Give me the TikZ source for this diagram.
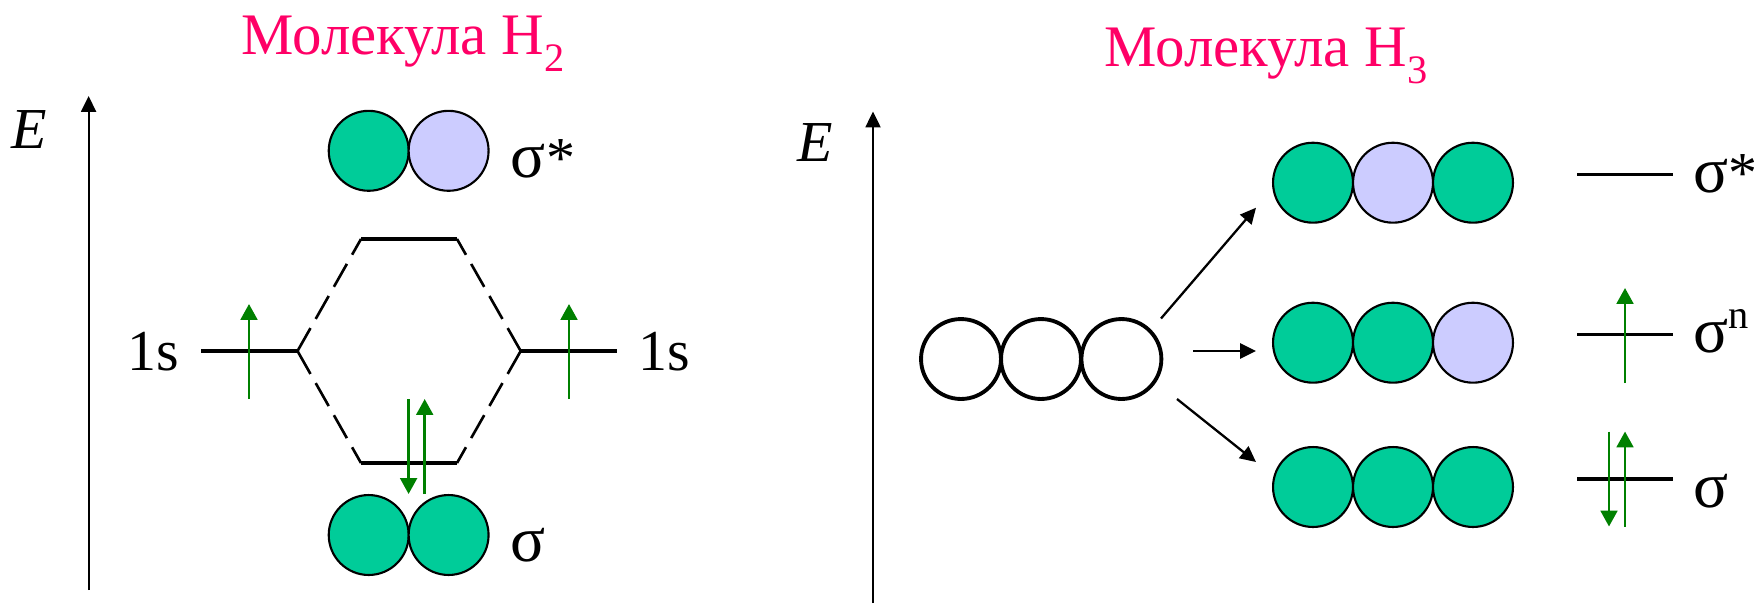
\documentclass[tikz,border=0pt]{standalone}
\usepackage{fontspec}
\setmainfont{Liberation Serif}
\usetikzlibrary{arrows.meta}
\definecolor{titlered}{HTML}{FF0066}
\definecolor{bondgreen}{HTML}{00CC99}
\definecolor{antililac}{HTML}{CCCCFF}
\definecolor{spingreen}{HTML}{008000}
\newcommand{\lowidx}[1]{\raisebox{-0.3em}{\fontsize{23}{23}\selectfont #1}}
\newcommand{\upidx}[1]{\raisebox{0.42em}{\fontsize{23}{23}\selectfont #1}}
\newcommand{\sgm}{{\fontsize{37}{36}\selectfont σ}}

\tikzset{
  bigtext/.style={font=\fontsize{33}{36}\selectfont, inner sep=0pt},
  titletext/.style={font=\fontsize{33.5}{36}\selectfont, inner sep=0pt, anchor=base, titlered},
  orb/.style={circle, draw, line width=1.2pt, minimum size=45.5pt, inner sep=0pt},
  orbg/.style={orb, fill=bondgreen},
  orbl/.style={orb, fill=antililac},
  orbe/.style={orb, line width=2.2pt, fill=white},
  axis/.style={-{Triangle[length=9pt, width=8.5pt]}, line width=1.2pt},
  level/.style={line width=2.1pt},
  link/.style={line width=1.5pt, dash pattern=on 15pt off 6pt},
  spin/.style={-{Triangle[length=9pt, width=9.5pt]}, spingreen, line width=1.5pt},
  split/.style={-{Triangle[length=9pt, width=8.5pt]}, line width=1.3pt}
}

\begin{document}
\begin{tikzpicture}[x=0.02cm, y=-0.02cm]
  \useasboundingbox (0,0) rectangle (1754,603);

  % --- Titles ---
  \node[titletext] (titleA) at (403, 54) {Молекула H\lowidx{2}};
  \node[titletext] (titleB) at (1266, 66) {Молекула H\lowidx{3}};

  % --- H2 (left) ---
  \coordinate (axisAa) at (88.6, 590);
  \coordinate (axisAb) at (88.6, 96);
  \draw[axis] (axisAa) -- (axisAb);
  \node[bigtext, anchor=base, font=\fontsize{33}{36}\selectfont\itshape] (enA) at (29, 148) {E};

  \node[orbg] (sa1) at (368.7, 150.8) {};
  \node[orbl] (sa2) at (448.6, 150.8) {};
  \node[orbg] (sb1) at (368.7, 535) {};
  \node[orbg] (sb2) at (448.6, 535) {};
  \node[bigtext, anchor=base west] (sgAa) at (510.6, 177) {\sgm*};
  \node[bigtext, anchor=base west] (sgAb) at (510.6, 561.5) {\sgm};

  % levels and their dashed links
  \coordinate (upL) at (361, 239);
  \coordinate (upR) at (457, 239);
  \coordinate (dnL) at (361, 463);
  \coordinate (dnR) at (457, 463);
  \coordinate (oneLa) at (201, 351);
  \coordinate (oneLb) at (297.5, 351);
  \coordinate (oneRa) at (520.7, 351);
  \coordinate (oneRb) at (617, 351);
  \draw[level] (upL) -- (upR);
  \draw[level] (dnL) -- (dnR);
  \draw[level] (oneLa) -- (oneLb);
  \draw[level] (oneRa) -- (oneRb);
  \draw[link] (oneLb) -- (upL);
  \draw[link] (oneLb) -- (dnL);
  \draw[link] (oneRa) -- (upR);
  \draw[link] (oneRa) -- (dnR);
  \node[bigtext, anchor=base] (oneL) at (153, 370) {1s};
  \node[bigtext, anchor=base] (oneR) at (664.5, 370) {1s};

  % electrons
  \coordinate (spAa) at (249, 399);
  \coordinate (spAb) at (249, 304);
  \coordinate (spBa) at (569, 399);
  \coordinate (spBb) at (569, 304);
  \coordinate (spCa) at (408.6, 399);
  \coordinate (spCb) at (408.6, 494);
  \coordinate (spDa) at (424.7, 494);
  \coordinate (spDb) at (424.7, 399);
  \draw[spin] (spAa) -- (spAb);
  \draw[spin] (spBa) -- (spBb);
  \draw[spin] (spCa) -- (spCb);
  \draw[spin] (spDa) -- (spDb);

  % --- H3 (right) ---
  \coordinate (axisBa) at (873, 603);
  \coordinate (axisBb) at (873, 111.5);
  \draw[axis] (axisBa) -- (axisBb);
  \node[bigtext, anchor=base, font=\fontsize{33}{36}\selectfont\itshape] (enB) at (815, 161.5) {E};

  \node[orbe] (ea1) at (961, 359) {};
  \node[orbe] (ea2) at (1041, 359) {};
  \node[orbe] (ea3) at (1121.4, 359) {};

  \node[orbg] (ta1) at (1313, 182.7) {};
  \node[orbl] (ta2) at (1393, 182.7) {};
  \node[orbg] (ta3) at (1473, 182.7) {};
  \node[orbg] (tb1) at (1313, 342.7) {};
  \node[orbg] (tb2) at (1393, 342.7) {};
  \node[orbl] (tb3) at (1473, 342.7) {};
  \node[orbg] (tc1) at (1313, 487) {};
  \node[orbg] (tc2) at (1393, 487) {};
  \node[orbg] (tc3) at (1473, 487) {};

  % splitting arrows
  \coordinate (frA) at (1161, 318.5);
  \coordinate (frB) at (1193, 351);
  \coordinate (frC) at (1177, 399);
  \coordinate (toA) at (1256, 207.7);
  \coordinate (toB) at (1256, 351);
  \coordinate (toC) at (1256, 462);
  \draw[split] (frA) -- (toA);
  \draw[split] (frB) -- (toB);
  \draw[split] (frC) -- (toC);

  % levels
  \coordinate (lvAa) at (1577, 174.6);
  \coordinate (lvAb) at (1673, 174.6);
  \coordinate (lvBa) at (1577, 334.6);
  \coordinate (lvBb) at (1673, 334.6);
  \coordinate (lvCa) at (1577, 479);
  \coordinate (lvCb) at (1673, 479);
  \draw[level] (lvAa) -- (lvAb);
  \draw[level] (lvBa) -- (lvBb);
  \draw[level] (lvCa) -- (lvCb);
  \node[bigtext, anchor=base west] (sgBa) at (1693, 192) {\sgm*};
  \node[bigtext, anchor=base west] (sgBb) at (1693, 352.7) {\sgm\upidx{n}};
  \node[bigtext, anchor=base west] (sgBc) at (1693, 507) {\sgm};

  % electrons
  \coordinate (spEa) at (1625, 383);
  \coordinate (spEb) at (1625, 288);
  \coordinate (spFa) at (1625, 526.5);
  \coordinate (spFb) at (1625, 431.5);
  \coordinate (spGa) at (1609, 431.5);
  \coordinate (spGb) at (1609, 526.5);
  \draw[spin] (spEa) -- (spEb);
  \draw[spin] (spFa) -- (spFb);
  \draw[spin] (spGa) -- (spGb);
\end{tikzpicture}
\end{document}
